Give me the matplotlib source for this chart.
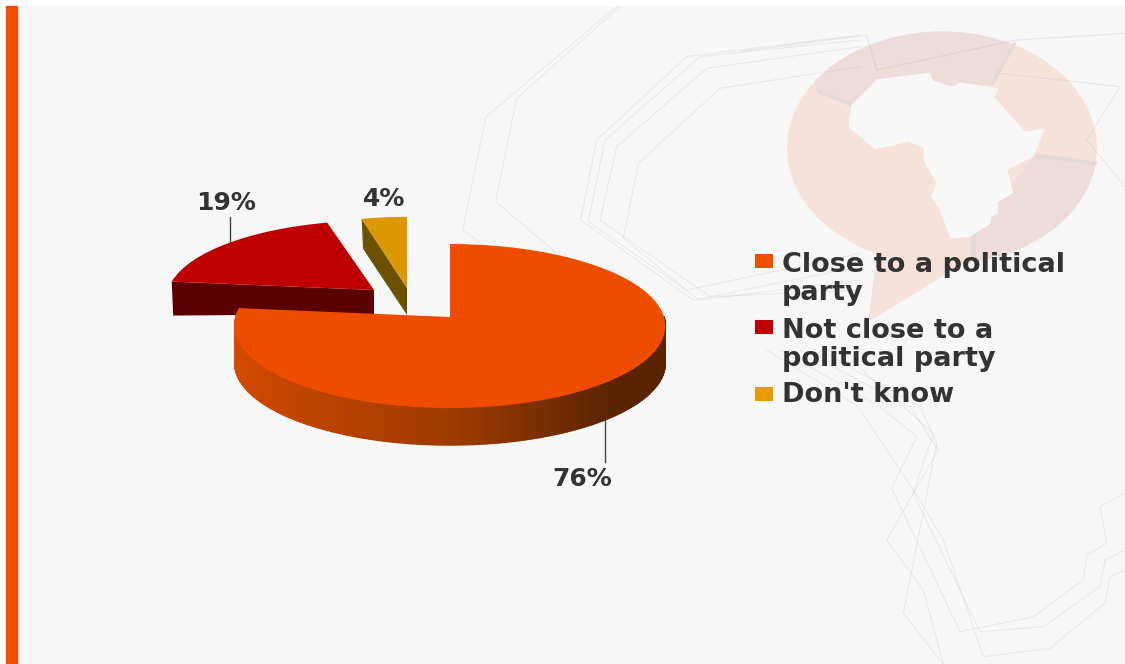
import numpy as np
from matplotlib import pyplot as plt
from matplotlib.patches import Ellipse, Polygon, Rectangle
from matplotlib.transforms import Transform
from matplotlib.colors import to_rgb

# chart data
categories = ['Close to a political\nparty', 'Not close to a\npolitical party', "Don't know"]
values = [76, 19, 4]
pct_labels = ['76%', '19%', '4%']
colors = ['#ee4d00', '#c00000', '#dc9800']
legend_colors = ['#f24e00', '#c00000', '#e89c00']
wall_colors = ['#a03a00', '#5a0000', '#6b5200']

# where each slice ends up: apex x, apex y, rx, ry, rim depth, apex depth
slice_pos = [(450, 317, 214, 81, 37, 37),
             (374, 290, 206, 77, 34, 24),
             (407, 288, 200, 79, 30, 27)]
persp = 0.11

bg = '#f7f7f7'
text_col = '#333333'


class TiltedPie(Transform):
    # unit pie -> tilted ellipse with a bit of perspective
    input_dims = 2
    output_dims = 2

    def __init__(self, cx, cy, rx, ry):
        super().__init__()
        self.cx, self.cy, self.rx, self.ry = cx, cy, rx, ry

    def transform_non_affine(self, values):
        u, v = values[:, 0], values[:, 1]
        s = 1 / (1 + persp * v)
        return np.column_stack([self.cx + self.rx * u * s, self.cy - self.ry * v * s])


def zoom_pts(pts, x0=740, y0=20):
    return [(x0 + x / 3, y0 + y / 3) for x, y in pts]


fig = plt.figure(figsize=(11.25, 6.64), dpi=100)
ax = fig.add_axes([0, 0, 1, 1])
wedges, _ = ax.pie(values, colors=colors, startangle=90, counterclock=False, radius=1)
ax.set_aspect('auto')
ax.set_xlim(0, 1125)
ax.set_ylim(664, 0)
ax.axis('off')

# slide background
ax.add_patch(Rectangle((6, 6), 1119, 658, color=bg, zorder=0))
ax.add_patch(Rectangle((6, 6), 11, 658, color='#f44e00', zorder=0.2))

# map pin with Africa cut out
peach = '#f7e2da'
pink = '#eedcdb'
gap_col = '#e4d9d6'
bubble = Ellipse((942, 148), 310, 233, color=peach, lw=0, zorder=0.5)
ax.add_patch(bubble)
ax.add_patch(Polygon([(877, 253), (970, 260), (868, 322)], color=peach, lw=0, zorder=0.5))
pink_shapes = [
    [(232, 213), (190, 100), (600, -20), (840, 40), (825, 68), (755, 195), (500, 200), (335, 255)],
    [(885, 405), (1090, 432), (1090, 800), (690, 800), (690, 650)],
]
for shape in pink_shapes:
    pp = Polygon(zoom_pts(shape), color=pink, lw=0, zorder=0.6)
    ax.add_patch(pp)
    pp.set_clip_path(bubble)
gaps = [[(232, 213), (335, 255)], [(825, 68), (755, 195)], [(885, 405), (1070, 430)], [(700, 640), (700, 722)]]
for g in gaps:
    p = np.array(zoom_pts(g))
    ax.plot(p[:, 0], p[:, 1], color=gap_col, lw=2.5, zorder=0.7, solid_capstyle='butt')
africa = [(410, 178), (570, 158), (580, 182), (640, 200), (660, 187), (775, 205), (763, 232), (855, 335),
          (915, 325), (880, 410), (802, 450), (820, 518), (772, 548), (775, 580), (755, 590), (750, 612),
          (690, 650), (632, 655), (597, 565), (572, 530), (590, 490), (550, 420), (552, 385), (505, 365),
          (405, 388), (325, 320), (335, 255)]
ax.add_patch(Polygon(zoom_pts(africa), color=bg, lw=0, zorder=0.8))

# faint circuit lines, they show through the pin
line_col = '#888888'
top_lines = [
    [(470, 20), (78, 350), (8, 690), (300, 900)],
    [(480, 20), (170, 295), (107, 605), (290, 760), (520, 900)],
    [(1200, 105), (680, 170), (410, 420), (362, 660), (700, 900), (1200, 800)],
    [(1200, 120), (720, 170), (435, 420), (385, 665), (720, 900), (1200, 840)],
    [(1200, 140), (740, 205), (470, 440), (420, 660), (750, 890), (1200, 870)],
    [(1200, 200), (780, 265), (535, 490), (490, 715), (680, 870), (1200, 760)],
]
for line in top_lines:
    p = np.array(zoom_pts(line, 460, 0))
    ax.plot(p[:, 0], p[:, 1], color=line_col, alpha=0.13, lw=0.8, zorder=0.9)
low_lines = [
    [(-100, -150), (175, 20), (350, 285), (430, 420), (550, 770), (750, 745), (915, 610), (930, 530), (975, 510)],
    [(-60, -150), (240, 20), (350, 110), (275, 265), (480, 695), (700, 650), (850, 540), (860, 465), (920, 430), (900, 320), (975, 280)],
    [(0, -150), (330, 20), (415, 150), (260, 420), (370, 570), (430, 792)],
    [(60, -150), (360, 20), (410, 130), (310, 640), (430, 792)],
    [(120, -150), (400, 100), (340, 280), (540, 695), (730, 680), (900, 560), (915, 480), (975, 450)],
]
for line in low_lines:
    p = np.array(zoom_pts(line, 800, 400))
    ax.plot(p[:, 0], p[:, 1], color=line_col, alpha=0.13, lw=0.8, zorder=0.9)
ul = np.array(zoom_pts([(0, 95), (380, 45), (410, 150), (830, 60), (1155, 40)]))
ax.plot(ul[:, 0], ul[:, 1], color=line_col, alpha=0.13, lw=1, zorder=0.9)
ur = np.array(zoom_pts([(780, 160), (1140, 200), (1040, 360), (1155, 500)]))
ax.plot(ur[:, 0], ur[:, 1], color=line_col, alpha=0.13, lw=0.8, zorder=0.9)

# slices, red and yellow first, the big one on top of them
zorders = [4, 2, 3]
dark, mid, light = np.array(to_rgb('#5a2400')), np.array(to_rgb('#9c3a00')), np.array(to_rgb('#d44a00'))
for w, pos, wall, z in zip(wedges, slice_pos, wall_colors, zorders):
    cx, cy, rx, ry, rim, apex = pos
    tf = TiltedPie(cx, cy, rx, ry)
    w.set_transform(tf + ax.transData)
    w.set_zorder(z + 0.5)
    w.set_edgecolor('none')

    if w is wedges[0]:
        # outer rim with the shading going dark to the right
        ang = np.radians(np.arange(w.theta1, 1.01, 0.75))
        for a0, a1 in zip(ang[:-1], ang[1:]):
            pts = tf.transform_non_affine(np.array([[np.cos(a0), np.sin(a0)], [np.cos(a1), np.sin(a1)]]))
            t = min((np.cos(a0) + 1) / 1.7, 1)
            if t < 0.6:
                col = light + (mid - light) * (t / 0.6)
            else:
                col = mid + (dark - mid) * ((t - 0.6) / 0.4)
            ax.fill([pts[0, 0], pts[1, 0], pts[1, 0], pts[0, 0]],
                    [pts[0, 1], pts[1, 1], pts[1, 1] + rim, pts[0, 1] + rim],
                    facecolor=col, edgecolor=col, lw=1, zorder=z)
    else:
        # left cut face of the slice, the only side we can see
        edge_a = np.radians(w.theta2)
        corner = tf.transform_non_affine(np.array([[np.cos(edge_a), np.sin(edge_a)]]))[0]
        ax.add_patch(Polygon([(cx, cy), corner, (corner[0] + 1.5, corner[1] + rim), (cx, cy + apex)],
                             color=wall, lw=0, zorder=z))

# value labels and leader lines
ax.plot([605, 605], [420, 462], color='#444444', lw=1, zorder=6)
ax.plot([230, 230], [217, 243], color='#444444', lw=1, zorder=1)
label_pos = [(582, 479), (226, 203), (384, 199)]
for txt, (x, y) in zip(pct_labels, label_pos):
    ax.text(x, y, txt, fontsize=18, fontweight='bold', color=text_col, ha='center', va='center', family='DejaVu Sans')

# legend
box_y = [254, 320, 387]
text_y = [300, 366, 402]
for c, name, by, ty in zip(legend_colors, categories, box_y, text_y):
    ax.add_patch(Rectangle((755, by), 18, 14, color=c, lw=0, zorder=6))
    ax.text(782, ty, name, fontsize=19.5, fontweight='bold', color=text_col, va='baseline', ha='left',
            linespacing=1.1, family='DejaVu Sans', zorder=7)

plt.savefig('out.png', dpi=100)
